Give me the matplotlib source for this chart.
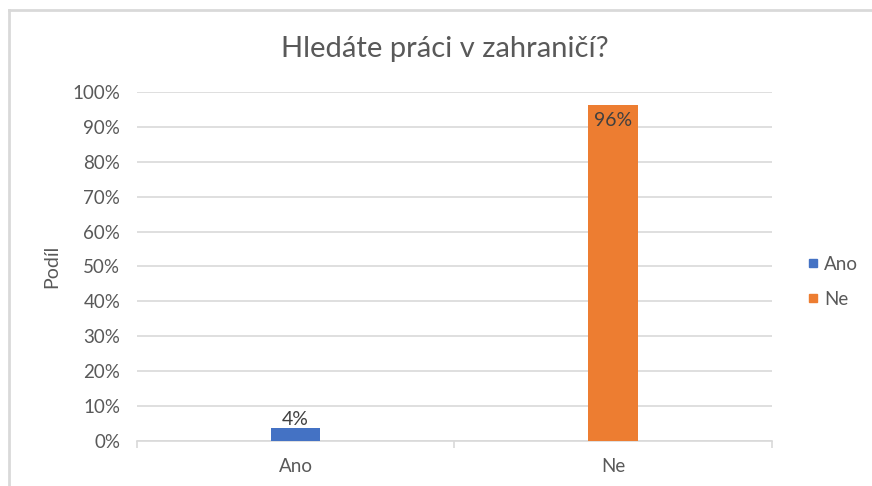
import matplotlib
matplotlib.use("Agg")
import matplotlib.pyplot as plt
from matplotlib.lines import Line2D
from matplotlib.ticker import FixedLocator, PercentFormatter

categories = ["Ano", "Ne"]
values = [0.037, 0.963]
colors = ["#4472C4", "#ED7D31"]
yticks = [0, 0.1, 0.2, 0.3, 0.4, 0.5, 0.6, 0.7, 0.8, 0.9, 1.0]

plt.rcParams['font.family'] = ['Lato', 'DejaVu Sans']
txt = "#595959"
grid = "#D9D9D9"

fig = plt.figure(figsize=(8.72, 4.86), dpi=100)
ax = fig.add_axes([0.157, 0.0926, 0.728, 0.7184])

x = list(range(len(categories)))
bars = ax.bar(x, values, width=0.155, color=colors, zorder=3)
ax.set_xlim(-0.5, len(categories) - 0.5)
ax.set_ylim(0, 1.0)
ax.set_yticks(yticks)
ax.yaxis.set_major_formatter(PercentFormatter(1.0, decimals=0))
ax.grid(axis='y', color=grid, linewidth=1.2, zorder=0)
ax.set_xticks(x)
ax.set_xticklabels(categories)
ax.xaxis.set_minor_locator(FixedLocator([i - 0.5 for i in range(len(categories) + 1)]))
ax.tick_params(axis='x', which='major', length=0, pad=12, labelsize=13.5, labelcolor=txt)
ax.tick_params(axis='x', which='minor', length=5, width=1.2, color=grid)
ax.tick_params(axis='y', length=0, pad=12, labelsize=13.5, labelcolor=txt)
for s in ['top', 'right', 'left']:
    ax.spines[s].set_visible(False)
ax.spines['bottom'].set_color(grid)
ax.spines['bottom'].set_linewidth(1.2)

for b, v in zip(bars, values):
    lbl = f"{v*100:.0f}%"
    cx = b.get_x() + b.get_width() / 2
    if v > 0.5:
        ax.annotate(lbl, (cx, v), xytext=(0, -5), textcoords='offset points',
                    ha='center', va='top', fontsize=14, color="#404040", zorder=4)
    else:
        ax.annotate(lbl, (cx, v), xytext=(0, 0), textcoords='offset points',
                    ha='center', va='bottom', fontsize=14, color="#404040", zorder=4)

ax.set_ylabel("Podíl", fontsize=14, color=txt)
ax.yaxis.set_label_coords(-0.12, 0.5)
fig.text(0.51, 0.90, "Hledáte práci v zahraničí?", ha='center', va='center',
         fontsize=21, color=txt)

handles = [Line2D([], [], marker='s', linestyle='none', markersize=6,
                  markerfacecolor=c, markeredgecolor=c) for c in colors]
fig.legend(handles, categories, loc='center left', bbox_to_anchor=(0.902, 0.42),
           frameon=False, fontsize=13.5, labelcolor=txt, handletextpad=0.1,
           labelspacing=0.95, handlelength=1.0)

# chart frame
fig.add_artist(Line2D([0.0098, 0.0098], [0.0, 0.98], transform=fig.transFigure,
                      color="#D9D9D9", linewidth=2))
fig.add_artist(Line2D([0.0098, 1.0], [0.98, 0.98], transform=fig.transFigure,
                      color="#D9D9D9", linewidth=2))

fig.savefig("out.png", dpi=100)
